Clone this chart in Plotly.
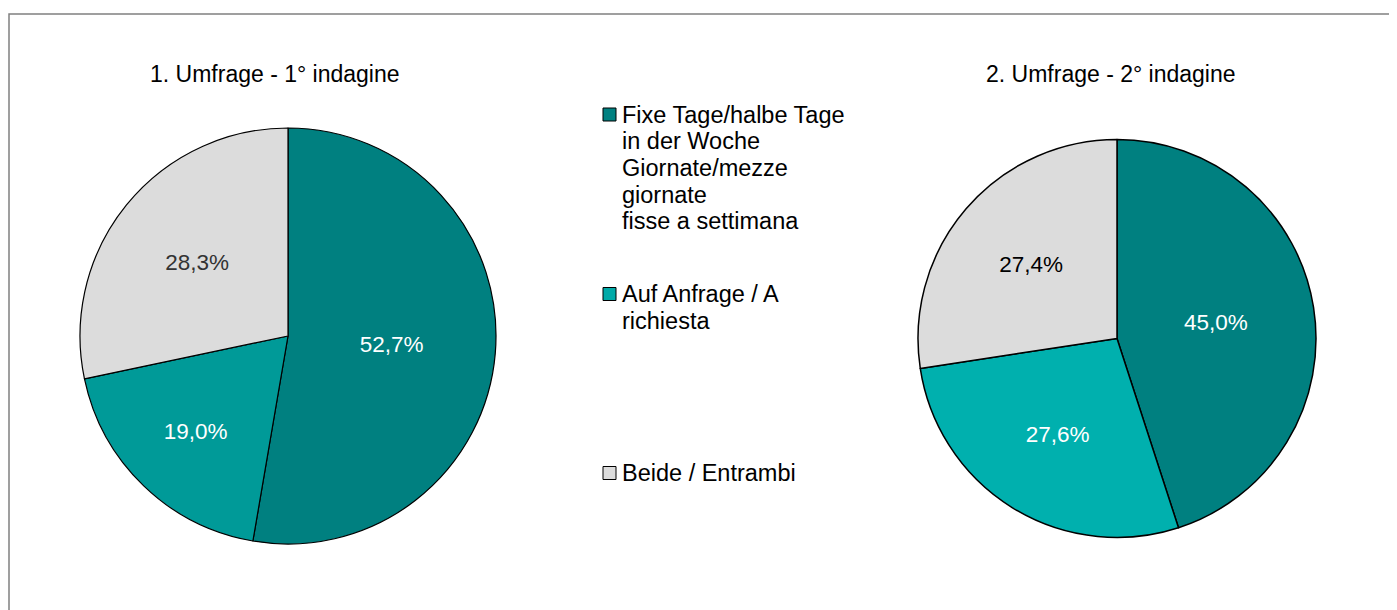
import plotly.graph_objects as go

W, H = 1397, 610
OFFSET = 8  # default page body margin in the browser

categories = [
    "Fixe Tage/halbe Tage in der Woche Giornate/mezze giornate fisse a settimana",
    "Auf Anfrage / A richiesta",
    "Beide / Entrambi",
]
legend_lines = [
    ["Fixe Tage/halbe Tage", "in der Woche", "Giornate/mezze", "giornate", "fisse a settimana"],
    ["Auf Anfrage / A", "richiesta"],
    ["Beide / Entrambi"],
]
values_survey1 = [52.7, 19.0, 28.3]
values_survey2 = [45.0, 27.6, 27.4]
titles = ["1. Umfrage - 1° indagine", "2. Umfrage - 2° indagine"]

colors1 = ["#008080", "#009a98", "#dcdcdc"]
colors2 = ["#008080", "#00b0ae", "#dcdcdc"]
legend_colors = ["#008080", "#00aaa8", "#dcdcdc"]
text_colors1 = ["#ffffff", "#ffffff", "#333333"]
text_colors2 = ["#ffffff", "#ffffff", "#000000"]

FONT = "Liberation Sans, Arial, sans-serif"


def px_x(x):
    return (x - OFFSET) / W


def px_y(y):
    return 1 - (y - OFFSET) / H


def domain(cx, cy, r):
    return dict(x=[px_x(cx - r), px_x(cx + r)], y=[px_y(cy + r), px_y(cy - r)])


fig = go.Figure()

fig.add_trace(go.Pie(
    labels=categories, values=values_survey1, sort=False, direction="clockwise",
    rotation=0, domain=domain(288, 336, 208),
    marker=dict(colors=colors1, line=dict(color="#000000", width=1.2)),
    texttemplate="%{value:.1f}%", textposition="inside", insidetextorientation="horizontal",
    textfont=dict(family=FONT, size=22.5, color=text_colors1),
    showlegend=False, hoverinfo="label+value",
))
fig.add_trace(go.Pie(
    labels=categories, values=values_survey2, sort=False, direction="clockwise",
    rotation=0, domain=domain(1117, 338.5, 199),
    marker=dict(colors=colors2, line=dict(color="#000000", width=1.5)),
    texttemplate="%{value:.1f}%", textposition="inside", insidetextorientation="horizontal",
    textfont=dict(family=FONT, size=22.5, color=text_colors2),
    showlegend=False, hoverinfo="label+value",
))

annotations = []
shapes = []

# titles
for title, cx in zip(titles, [275, 1111]):
    annotations.append(dict(
        text=title, x=px_x(cx), y=px_y(74), xref="paper", yref="paper",
        xanchor="center", yanchor="middle", showarrow=False,
        font=dict(family=FONT, size=23, color="#000000"),
    ))

# legend
legend_first_line_y = [114.5, 294, 473]
line_step = 26.7
for lines, color, y0 in zip(legend_lines, legend_colors, legend_first_line_y):
    shapes.append(dict(
        type="rect", xref="paper", yref="paper",
        x0=px_x(603), x1=px_x(616), y0=px_y(y0 + 6.5), y1=px_y(y0 - 6.5),
        fillcolor=color, line=dict(color="#000000", width=1),
    ))
    for i, line in enumerate(lines):
        annotations.append(dict(
            text=line, x=px_x(620), y=px_y(y0 + i * line_step), xref="paper", yref="paper",
            xanchor="left", yanchor="middle", showarrow=False,
            font=dict(family=FONT, size=23.5, color="#000000"),
        ))

# outer frame
shapes.append(dict(
    type="rect", xref="paper", yref="paper",
    x0=px_x(9), x1=1.05, y0=-0.05, y1=px_y(14),
    line=dict(color="#808080", width=1.5), fillcolor="rgba(0,0,0,0)", layer="below",
))

fig.update_layout(
    width=W, height=H, autosize=False,
    margin=dict(l=0, r=0, t=0, b=0),
    paper_bgcolor="#ffffff", plot_bgcolor="#ffffff",
    separators=",.",
    font=dict(family=FONT, size=22, color="#000000"),
    annotations=annotations, shapes=shapes,
)

fig.write_html("out.html")
